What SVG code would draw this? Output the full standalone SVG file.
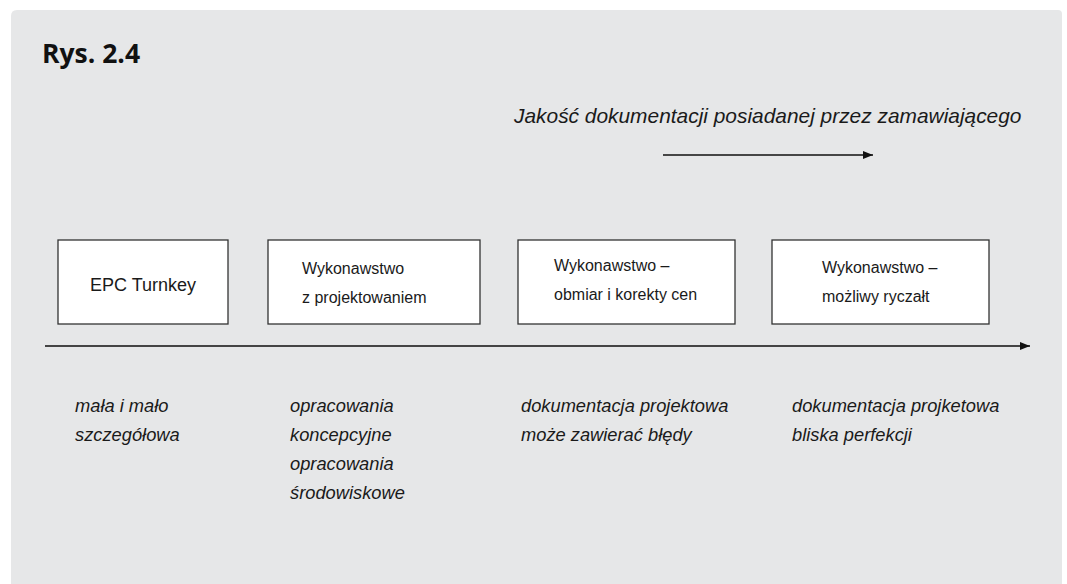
<svg xmlns="http://www.w3.org/2000/svg" width="1067" height="584" viewBox="0 0 1067 584">
  <defs>
    <marker id="arrowhead" viewBox="0 0 10 8" refX="10" refY="4" markerWidth="10" markerHeight="8" markerUnits="userSpaceOnUse" orient="auto">
      <path d="M0,0 L10,4 L0,8 Z" fill="#111"/>
    </marker>
    <style>
      .panel { fill: #e6e7e8; }
      .box { fill: #ffffff; stroke: #333; stroke-width: 1.3; }
      .label { font-family: "Liberation Sans", Arial, sans-serif; font-size: 16px; fill: #1a1a1a; }
      .label-lg { font-family: "Liberation Sans", Arial, sans-serif; font-size: 18px; fill: #1a1a1a; }
      .note { font-family: "Liberation Sans", Arial, sans-serif; font-size: 18.3px; font-style: italic; fill: #1a1a1a; }
      .axis { stroke: #444; stroke-width: 2; fill: none; }
      .hint { stroke: #111; stroke-width: 1.3; fill: none; }
    </style>
  </defs>

  <!-- background panel -->
  <path class="panel" d="M11,16 Q11,10 17,10 L1058,10 Q1062,10 1062,14 L1062,584 L11,584 Z"/>

  <!-- figure title -->
  <text x="42" y="63" font-family="'Open Sans', 'Liberation Sans', sans-serif" font-weight="700" font-size="26.5" fill="#111">Rys. 2.4</text>

  <!-- scale caption -->
  <text x="514" y="123" font-family="'Liberation Sans', Arial, sans-serif" font-size="20.9" font-style="italic" fill="#1a1a1a">Jakość dokumentacji posiadanej przez zamawiającego</text>

  <g id="connectors">
    <line class="hint" x1="663" y1="155" x2="873" y2="155" marker-end="url(#arrowhead)"/>
    <line class="axis" x1="45" y1="346" x2="1030" y2="346" marker-end="url(#arrowhead)"/>
  </g>

  <g id="node-epc">
    <rect class="box" x="58" y="240" width="170" height="84"/>
    <text class="label-lg" x="143" y="291" text-anchor="middle">EPC Turnkey</text>
  </g>

  <g id="node-design-build">
    <rect class="box" x="268" y="240" width="212" height="84"/>
    <text class="label" x="302" y="274">Wykonawstwo</text>
    <text class="label" x="302" y="303">z projektowaniem</text>
  </g>

  <g id="node-remeasure">
    <rect class="box" x="518" y="240" width="217" height="84"/>
    <text class="label" x="554" y="271">Wykonawstwo –</text>
    <text class="label" x="554" y="300">obmiar i korekty cen</text>
  </g>

  <g id="node-lump-sum">
    <rect class="box" x="772" y="240" width="217" height="84"/>
    <text class="label" x="822" y="273">Wykonawstwo –</text>
    <text class="label" x="822" y="302">możliwy ryczałt</text>
  </g>

  <g id="notes">
    <text class="note" x="75" y="412">mała i mało</text>
    <text class="note" x="75" y="441">szczegółowa</text>

    <text class="note" x="290" y="412">opracowania</text>
    <text class="note" x="290" y="441">koncepcyjne</text>
    <text class="note" x="290" y="470">opracowania</text>
    <text class="note" x="290" y="499">środowiskowe</text>

    <text class="note" x="521" y="412">dokumentacja projektowa</text>
    <text class="note" x="521" y="441">może zawierać błędy</text>

    <text class="note" x="792" y="412">dokumentacja projketowa</text>
    <text class="note" x="792" y="441">bliska perfekcji</text>
  </g>
</svg>
